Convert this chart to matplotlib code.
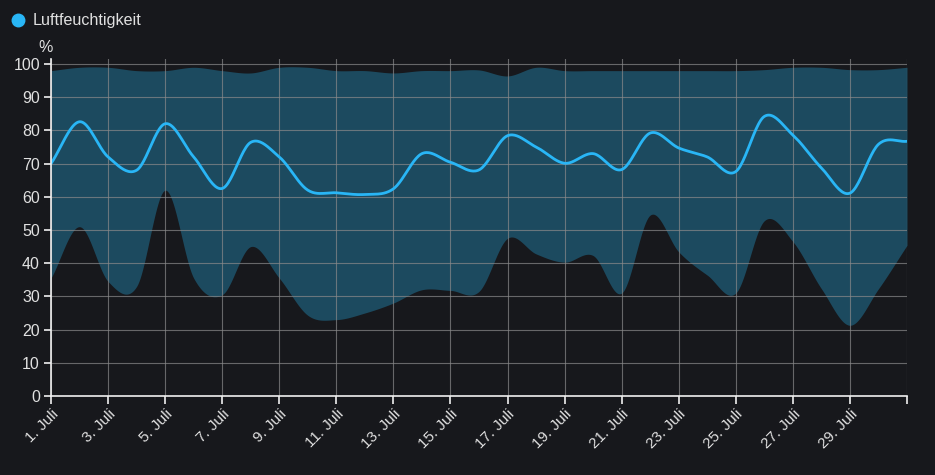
import numpy as np
import matplotlib
matplotlib.use("Agg")
import matplotlib.pyplot as plt

# Luftfeuchtigkeit Juli, Tageswerte (min / mittel / max) in %
tage = list(range(1, 32))
hum_max = [98, 99, 99, 98, 98, 99, 98, 97.3, 99, 99,
           98, 98, 97.3, 98, 98, 98.2, 96.4, 99, 98, 98,
           98, 98, 98, 98, 98, 98.3, 99, 99, 98.3, 98.3, 99]
hum_mean = [70, 82.6, 72, 68, 82, 72, 62.5, 76.4, 72, 62,
            61.2, 60.7, 62.4, 73, 70.4, 68.1, 78.4, 75, 70.1, 73,
            68.2, 79.2, 74.7, 72, 67.6, 84.2, 78.6, 68.7, 61.1, 75.8, 76.7]
hum_min = [35.5, 51, 34.5, 33, 62, 35.5, 30.5, 45, 35.5, 24.3,
           23, 25, 28, 32, 31.8, 31.5, 47.5, 42.8, 40.3, 42.3,
           31, 54.5, 43.4, 36.4, 31, 52.8, 46.5, 32.3, 21.3, 32.3, 45.4]
xlabels = [f"{d}. Juli" for d in range(1, 31, 2)]

BG = "#17181c"
BAND = "#1c4a5f"
LINE = "#29b6f6"
TXT = "#e0e0e0"


def spline(x, y, n=24):
    # catmull-rom style curve between the daily points (only for drawing)
    x = np.asarray(x, float)
    y = np.asarray(y, float)
    m = np.zeros_like(y)
    m[1:-1] = (y[2:] - y[:-2]) / (x[2:] - x[:-2])
    m[0] = (y[1] - y[0]) / (x[1] - x[0])
    m[-1] = (y[-1] - y[-2]) / (x[-1] - x[-2])
    xs, ys = [], []
    for i in range(len(x) - 1):
        h = x[i + 1] - x[i]
        t = np.linspace(0, 1, n, endpoint=False)
        h00 = 2*t**3 - 3*t**2 + 1
        h10 = t**3 - 2*t**2 + t
        h01 = -2*t**3 + 3*t**2
        h11 = t**3 - t**2
        xs.append(x[i] + t*h)
        ys.append(h00*y[i] + h10*h*m[i] + h01*y[i+1] + h11*h*m[i+1])
    xs.append([x[-1]])
    ys.append([y[-1]])
    return np.concatenate(xs), np.concatenate(ys)


plt.rcParams['font.family'] = ['Liberation Sans', 'DejaVu Sans']

fig = plt.figure(figsize=(9.35, 4.75), dpi=100, facecolor=BG)
ax = fig.add_axes([51/935, 1 - 396/475, (907 - 51)/935, (396 - 59)/475])
ax.set_facecolor(BG)

xs, ylo = spline(tage, hum_min)
_, yhi = spline(tage, hum_max)
_, ym = spline(tage, hum_mean)

ax.fill_between(xs, ylo, yhi, color=BAND, linewidth=0, zorder=1)
ax.plot(xs, ym, color=LINE, linewidth=2, zorder=3, solid_capstyle='round')

ax.set_xlim(1, 31)
ax.set_ylim(0, 101.5)
ax.set_yticks(range(0, 101, 10))
ax.set_xticks(list(range(1, 32, 2)))
ax.set_xticklabels(xlabels + [""])

ax.grid(True, color="#8a8a8a", linewidth=0.8, alpha=0.7, zorder=2)
ax.set_axisbelow(False)
for s in ["top", "right"]:
    ax.spines[s].set_visible(False)
for s in ["left", "bottom"]:
    ax.spines[s].set_color("#f0f0f0")
    ax.spines[s].set_linewidth(1.2)
    ax.spines[s].set_zorder(4)

ax.tick_params(axis="y", colors="#f0f0f0", labelcolor=TXT, labelsize=11.5,
               length=5, width=1.2, pad=3)
ax.tick_params(axis="x", colors="#f0f0f0", labelcolor=TXT, labelsize=11,
               length=6, width=1.2, pad=2)
for lab in ax.get_xticklabels():
    lab.set_rotation(45)
    lab.set_ha("right")
    lab.set_rotation_mode("anchor")

fig.text(46/935, 1 - 47/475, "%", color=TXT, fontsize=11.5, ha="center", va="center")

# legend
fig.lines.append(plt.Line2D([18/935], [1 - 20/475], marker="o", markersize=9,
                            color=LINE, transform=fig.transFigure, linestyle=""))
fig.text(33/935, 1 - 20/475, "Luftfeuchtigkeit", color=TXT, fontsize=11.6,
         ha="left", va="center")

fig.savefig("out.png", dpi=100, facecolor=BG)
